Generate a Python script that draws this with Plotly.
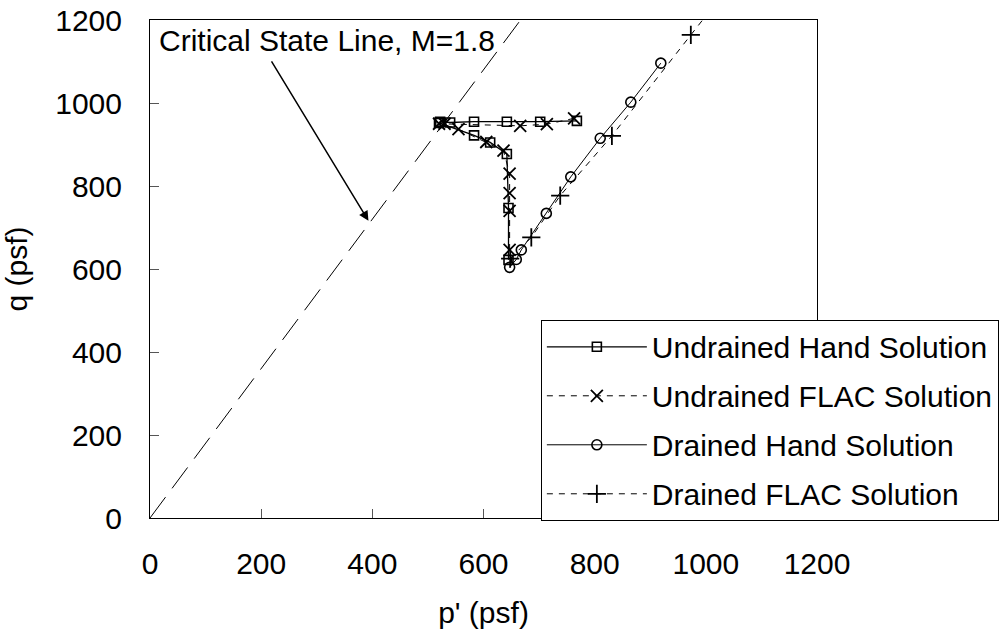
import plotly.graph_objects as go

# ---- data ----
M = 1.8
csl_p = [0, 700]

uh_p = [768, 702, 642, 583, 540, 522, 520, 583, 612, 642, 645, 645]
uh_q = [957, 955, 955, 955, 953, 955, 952, 922, 905, 877, 747, 622]

uf_p = [763, 714, 666, 530, 520, 555, 605, 636, 647, 647, 647, 647]
uf_q = [963, 949, 945, 950, 950, 937, 906, 885, 830, 783, 740, 646]

dh_p = [647, 659, 668, 713, 757, 810, 865, 919]
dh_q = [604, 623, 646, 734, 822, 915, 1002, 1096]

df_p = [648, 686, 738, 831, 973, 1115]
df_q = [625, 676, 777, 921, 1164, 1405]

ticks = [0, 200, 400, 600, 800, 1000, 1200]

FONT = "Liberation Sans, Arial, sans-serif"
FS = 30

fig = go.Figure()

fig.add_trace(go.Scatter(
    x=csl_p, y=[M * p for p in csl_p], mode="lines",
    line=dict(color="black", width=1, dash="26px,11px"),
    showlegend=False, hoverinfo="skip"))

fig.add_trace(go.Scatter(
    x=uh_p, y=uh_q, mode="lines+markers", name="Undrained Hand Solution",
    legendgroup="a",
    line=dict(color="black", width=1.3),
    marker=dict(symbol="square-open", size=9, color="black", line=dict(width=1.6))))

fig.add_trace(go.Scatter(
    x=uf_p, y=uf_q, mode="lines+markers", name="Undrained FLAC Solution",
    legendgroup="b",
    line=dict(color="black", width=1, dash="6px,6px"),
    marker=dict(symbol="x-thin-open", size=12, color="black", line=dict(width=1.8, color="black"))))

fig.add_trace(go.Scatter(
    x=dh_p, y=dh_q, mode="lines+markers", name="Drained Hand Solution",
    legendgroup="c",
    line=dict(color="black", width=1),
    marker=dict(symbol="circle-open", size=10, color="black", line=dict(width=1.6))))

fig.add_trace(go.Scatter(
    x=df_p, y=df_q, mode="lines+markers", name="Drained FLAC Solution",
    legendgroup="d",
    line=dict(color="black", width=1, dash="6px,6px"),
    marker=dict(symbol="cross-thin-open", size=13, color="black", line=dict(width=1.8, color="black"))))

axis_common = dict(
    range=[0, 1200], tickvals=ticks, ticktext=[str(t) for t in ticks],
    showgrid=False, zeroline=False, showline=True, linecolor="black", linewidth=1,
    mirror=True, ticks="inside", ticklen=9, tickcolor="#555", tickwidth=1,
    tickfont=dict(family=FONT, size=FS, color="black"),
    ticklabeloverflow="allow",
)

fig.update_layout(
    width=1004, height=634,
    paper_bgcolor="white", plot_bgcolor="white",
    margin=dict(l=150, r=187, t=20, b=116, autoexpand=False),
    font=dict(family=FONT, size=FS, color="black"),
    xaxis=dict(**axis_common, ticklabelstandoff=19,
               title=dict(text="p' (psf)", font=dict(family=FONT, size=FS), standoff=22)),
    yaxis=dict(**axis_common, ticklabelstandoff=21,
               title=dict(text="q (psf)", font=dict(family=FONT, size=FS), standoff=31)),
    legend=dict(x=0.586, y=0.398, xanchor="left", yanchor="top",
                bgcolor="white", bordercolor="black", borderwidth=1,
                font=dict(family=FONT, size=FS, color="black"),
                tracegroupgap=7, itemwidth=100, traceorder="grouped"),
    showlegend=True,
)

fig.add_annotation(x=0, y=1200, xref="x", yref="y", xshift=7, yshift=-2,
                   text="Critical State Line, M=1.8", showarrow=False,
                   xanchor="left", yanchor="top",
                   font=dict(family=FONT, size=FS, color="black"))
fig.add_annotation(x=393, y=716, xref="x", yref="y", ax=217, ay=1104,
                   axref="x", ayref="y", text="", showarrow=True,
                   arrowhead=2, arrowsize=1.3, arrowwidth=1.5, arrowcolor="black")

fig.write_html("out.html", config={"displayModeBar": False},
               post_script="document.body.style.margin='0';document.body.style.overflow='hidden';")
